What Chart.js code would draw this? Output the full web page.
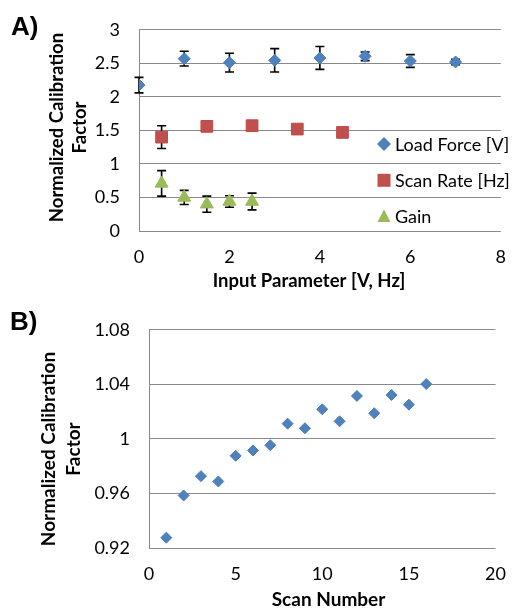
<!DOCTYPE html>
<html>
<head>
<meta charset="utf-8">
<script src="https://cdn.jsdelivr.net/npm/chart.js@4.4.1/dist/chart.umd.min.js"></script>
<style>
  html, body { margin: 0; padding: 0; background: #fff; }
  body { width: 521px; height: 609px; position: relative; overflow: hidden; }
  canvas { position: absolute; left: 0; }
  #chartA { top: 0; }
  #chartB { top: 300px; }
</style>
</head>
<body>
<canvas id="chartA" width="521" height="300"></canvas>
<canvas id="chartB" width="521" height="309"></canvas>
<script>
// panel A
const loadForceX = [0, 1, 2, 3, 4, 5, 6, 7];
const loadForceY = [2.175, 2.57, 2.51, 2.545, 2.58, 2.605, 2.535, 2.52];
const loadForceErr = [0.115, 0.11, 0.14, 0.175, 0.17, 0.065, 0.095, 0.04];

const scanRateX = [0.5, 1.5, 2.5, 3.5, 4.5];
const scanRateY = [1.40, 1.56, 1.57, 1.52, 1.47];
const scanRateErr = [0.17, 0.03, 0.03, 0.02, 0.02];

const gainX = [0.5, 1, 1.5, 2, 2.5];
const gainY = [0.71, 0.50, 0.40, 0.44, 0.44];
const gainErr = [0.19, 0.105, 0.12, 0.085, 0.125];

const ticksA_x = [0, 2, 4, 6, 8];
const ticksA_y = [0, 0.5, 1, 1.5, 2, 2.5, 3];

// panel B
const scanNumber = [1, 2, 3, 4, 5, 6, 7, 8, 9, 10, 11, 12, 13, 14, 15, 16];
const calibFactor = [0.9276, 0.9585, 0.9727, 0.9688, 0.9876, 0.9915, 0.9954, 1.0112,
                     1.0078, 1.0217, 1.0129, 1.0315, 1.0188, 1.0322, 1.0251, 1.0402];

const ticksB_x = [0, 5, 10, 15, 20];
const ticksB_y = [0.92, 0.96, 1, 1.04, 1.08];

const BLUE = '#4F81BD';
const RED = '#C0504D';
const GREEN = '#9BBB59';
const GRID = '#8a8a8a';
const TICK_FONT = { family: 'Lato, sans-serif', size: 18 };

function toPoints(xs, ys) {
    return xs.map((x, i) => ({ x: x, y: ys[i] }));
}

const errorBars = {
    id: 'errorBars',
    beforeDatasetsDraw(chart) {
        const { ctx, scales: { x, y } } = chart;
        ctx.save();
        ctx.strokeStyle = '#000';
        ctx.lineWidth = 1.6;
        chart.data.datasets.forEach((ds) => {
            if (!ds.errors) return;
            ds.data.forEach((p, i) => {
                const px = x.getPixelForValue(p.x);
                const top = y.getPixelForValue(p.y + ds.errors[i]);
                const bot = y.getPixelForValue(p.y - ds.errors[i]);
                ctx.beginPath();
                ctx.moveTo(px, top);
                ctx.lineTo(px, bot);
                ctx.moveTo(px - 4.5, top);
                ctx.lineTo(px + 4.5, top);
                ctx.moveTo(px - 4.5, bot);
                ctx.lineTo(px + 4.5, bot);
                ctx.stroke();
            });
        });
        ctx.restore();
    }
};

function drawMarker(ctx, style, x, y, color) {
    ctx.fillStyle = color;
    ctx.beginPath();
    if (style === 'rectRot') {
        ctx.moveTo(x - 7, y);
        ctx.lineTo(x, y - 7);
        ctx.lineTo(x + 7, y);
        ctx.lineTo(x, y + 7);
    } else if (style === 'rect') {
        ctx.rect(x - 6.5, y - 6.5, 13, 13);
    } else {
        ctx.moveTo(x, y - 7);
        ctx.lineTo(x + 6.5, y + 5.5);
        ctx.lineTo(x - 6.5, y + 5.5);
    }
    ctx.closePath();
    ctx.fill();
}

// legend drawn inside the plot, like the original
const insideLegend = {
    id: 'insideLegend',
    afterDraw(chart) {
        const ctx = chart.ctx;
        ctx.save();
        ctx.font = '18px Lato, sans-serif';
        ctx.textBaseline = 'alphabetic';
        chart.data.datasets.forEach((ds, i) => {
            const cy = 144 + i * 36.3;
            drawMarker(ctx, ds.pointStyle, 384, cy, ds.backgroundColor);
            ctx.fillStyle = '#000';
            ctx.fillText(ds.label, 395, cy + 6.5);
        });
        ctx.restore();
    }
};

function panelText(opts) {
    return {
        id: 'panelText',
        afterDraw(chart) {
            const ctx = chart.ctx;
            ctx.save();
            ctx.fillStyle = '#000';
            ctx.textBaseline = 'alphabetic';
            ctx.font = 'bold 26px "Liberation Sans", Arial, sans-serif';
            ctx.fillText(opts.letter, opts.letterX, opts.letterY);

            ctx.font = 'bold ' + opts.titleSize + 'px Lato, sans-serif';
            ctx.textAlign = 'center';
            ctx.fillText(opts.xTitle, opts.xTitleX, opts.xTitleY);

            ctx.translate(opts.yTitleX, opts.yTitleY);
            ctx.rotate(-Math.PI / 2);
            opts.yTitle.forEach((line, i) => ctx.fillText(line, 0, i * opts.yTitleGap));
            ctx.restore();
        }
    };
}

function axisOptions(xMin, xMax, xTicks, yMin, yMax, yTicks, yWidth, xHeight) {
    return {
        x: {
            type: 'linear',
            min: xMin,
            max: xMax,
            afterBuildTicks: (scale) => { scale.ticks = xTicks.map(v => ({ value: v })); },
            afterFit: (scale) => { scale.height = xHeight; },
            grid: { display: false, drawTicks: false },
            border: { display: false },
            ticks: { color: '#000', font: TICK_FONT, padding: 15, maxRotation: 0, callback: (v) => String(v) }
        },
        y: {
            type: 'linear',
            min: yMin,
            max: yMax,
            afterBuildTicks: (scale) => { scale.ticks = yTicks.map(v => ({ value: v })); },
            afterFit: (scale) => { scale.width = yWidth; },
            grid: { color: GRID, lineWidth: 1, drawTicks: false },
            border: { display: true, color: GRID, width: 1 },
            ticks: { color: '#000', font: TICK_FONT, padding: 19, callback: (v) => String(v) }
        }
    };
}

const chartA = new Chart(document.getElementById('chartA'), {
    type: 'scatter',
    data: {
        datasets: [
            {
                label: 'Load Force [V]',
                data: toPoints(loadForceX, loadForceY),
                errors: loadForceErr,
                pointStyle: 'rectRot',
                pointRadius: 6,
                backgroundColor: BLUE,
                borderColor: '#4A7EBB',
                borderWidth: 1
            },
            {
                label: 'Scan Rate [Hz]',
                data: toPoints(scanRateX, scanRateY),
                errors: scanRateErr,
                pointStyle: 'rect',
                pointRadius: 8.3,
                backgroundColor: RED,
                borderColor: '#BE4B48',
                borderWidth: 1
            },
            {
                label: 'Gain',
                data: toPoints(gainX, gainY),
                errors: gainErr,
                pointStyle: 'triangle',
                pointRadius: 7.5,
                backgroundColor: GREEN,
                borderColor: '#98B954',
                borderWidth: 1
            }
        ]
    },
    options: {
        responsive: false,
        animation: false,
        devicePixelRatio: 1,
        layout: { padding: { left: 0, right: 19, top: 24, bottom: 0 } },
        scales: axisOptions(0, 8, ticksA_x, 0, 3, ticksA_y, 139, 69),
        plugins: { legend: { display: false }, tooltip: { enabled: false } }
    },
    plugins: [errorBars, insideLegend, panelText({
        letter: 'A)', letterX: 11, letterY: 35,
        titleSize: 18.5,
        xTitle: 'Input Parameter [V, Hz]', xTitleX: 309, xTitleY: 287,
        yTitle: ['Normalized Calibration', 'Factor'], yTitleX: 62.5, yTitleY: 127.5, yTitleGap: 23.5
    })]
});

const chartB = new Chart(document.getElementById('chartB'), {
    type: 'scatter',
    data: {
        datasets: [{
            label: 'Calibration Factor',
            data: toPoints(scanNumber, calibFactor),
            pointStyle: 'rectRot',
            pointRadius: 5.5,
            backgroundColor: BLUE,
            borderColor: '#4A7EBB',
            borderWidth: 1
        }]
    },
    options: {
        responsive: false,
        animation: false,
        devicePixelRatio: 1,
        layout: { padding: { left: 0, right: 14, top: 29, bottom: 0 } },
        scales: axisOptions(0, 20, ticksB_x, 0.92, 1.08, ticksB_y, 149, 61),
        plugins: { legend: { display: false }, tooltip: { enabled: false } }
    },
    plugins: [panelText({
        letter: 'B)', letterX: 10, letterY: 30,
        titleSize: 19,
        xTitle: 'Scan Number', xTitleX: 328.5, xTitleY: 306,
        yTitle: ['Normalized Calibration', 'Factor'], yTitleX: 55, yTitleY: 149, yTitleGap: 25
    })]
});
</script>
</body>
</html>
